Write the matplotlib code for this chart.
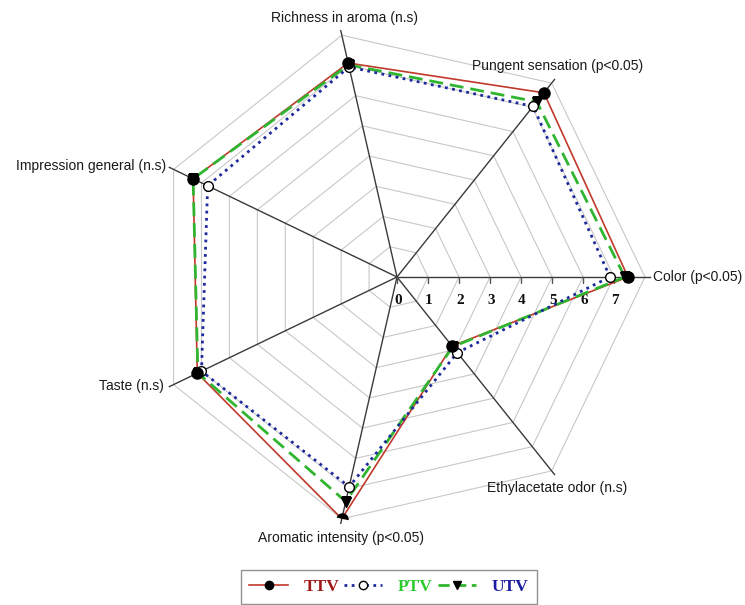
import numpy as np
import matplotlib
matplotlib.use("Agg")
import matplotlib.pyplot as plt
from matplotlib.lines import Line2D

# Sensory attributes, counter-clockwise from the right-hand axis
attributes = ["Color (p<0.05)", "Pungent sensation (p<0.05)", "Richness in aroma (n.s)",
              "Impression general (n.s)", "Taste (n.s)", "Aromatic intensity (p<0.05)",
              "Ethylacetate odor (n.s)"]

ttv = [7.45, 7.6, 7.08, 7.3, 7.15, 8.0, 2.85]
ptv = [6.87, 7.04, 6.95, 6.78, 7.0, 6.94, 3.12]
utv = [7.35, 7.23, 7.02, 7.3, 7.13, 7.43, 2.88]

scale_ticks = [0, 1, 2, 3, 4, 5, 6, 7]
grid_levels = [1, 2, 3, 4, 5, 6, 7, 8]
series_names = ["TTV", "PTV", "UTV"]

n = len(attributes)
theta = np.arange(n) * 2 * np.pi / n
theta_c = np.append(theta, theta[0])

def closed(v):
    return list(v) + [v[0]]

W, H = 745, 605
cx, cy, R = 397, 277, 248
fig = plt.figure(figsize=(W / 100, H / 100), dpi=100)
ax = fig.add_axes([(cx - R) / W, (H - cy - R) / H, 2 * R / W, 2 * R / H], projection="polar")
ax.set_ylim(0, 8)
ax.axis("off")

# heptagonal grid rings
for lv in grid_levels:
    ax.plot(theta_c, [lv] * (n + 1), color="#c8c8c8", lw=0.8, zorder=1)

# spokes
for t in theta:
    ax.plot([t, t], [0, 8.15], color="#3a3a3a", lw=1.0, zorder=2, clip_on=False)

# scale ticks along the right-hand axis
ax.plot([0] * len(scale_ticks), scale_ticks, ls="none", marker=3, ms=4,
        color="#555555", zorder=2)
for s in scale_ticks:
    ax.annotate(str(s), xy=(0, s), xytext=(1, -24), textcoords="offset pixels",
                ha="center", va="center", fontsize=11, fontweight="bold",
                family="Liberation Serif", color="#111111")

# series lines
ax.plot(theta_c, closed(ttv), color="#c0392b", lw=1.2, zorder=4)
ax.plot(theta_c, closed(utv), color="#2fb52f", lw=2.0, ls=(0, (5, 2.5)), zorder=5)
ax.plot(theta_c, closed(ptv), color="#1c2a9c", lw=2.0, ls=(0, (1, 1.6)), zorder=6)

# markers
ax.plot(theta, utv, ls="none", marker="v", ms=7, color="black", zorder=7)
ax.plot(theta, ptv, ls="none", marker="o", ms=7, mfc="white", mec="black", mew=1.0, zorder=8)
ax.plot(theta, ttv, ls="none", marker="o", ms=8, color="black", zorder=9)

# attribute labels around the chart
label_pos = [
    ((3, 0), "left", "center"),
    ((3, 6), "center", "bottom"),
    ((4, 6), "center", "bottom"),
    ((-3, 1), "right", "center"),
    ((-5, 1), "right", "center"),
    ((0, -8), "center", "top"),
    ((3, -6), "center", "top"),
]
for t, lab, (off, ha, va) in zip(theta, attributes, label_pos):
    ax.annotate(lab, xy=(t, 8.15), xytext=off, textcoords="offset pixels",
                ha=ha, va=va, fontsize=10, family="Liberation Sans",
                color="#1a1a1a", annotation_clip=False)

# legend
handles = [
    Line2D([], [], color="#c0392b", lw=1.2, marker="o", ms=6, mfc="black", mec="black"),
    Line2D([], [], color="#1c2a9c", lw=2.0, ls=(0, (1, 1.6)), marker="o", ms=6,
           mfc="white", mec="black", mew=1.0),
    Line2D([], [], color="#2fb52f", lw=2.0, ls=(0, (4, 2)), marker="v", ms=6,
           mfc="black", mec="black"),
]
leg = fig.legend(handles, series_names, loc="center", ncol=3,
                 bbox_to_anchor=(389 / W, 1 - 587 / H),
                 frameon=True, fancybox=False, edgecolor="#777777",
                 handlelength=2.2, handletextpad=0.9, columnspacing=0.3,
                 borderpad=0.5, borderaxespad=0.0,
                 prop={"family": "Liberation Serif", "weight": "bold", "size": 12.5})
leg.get_frame().set_linewidth(1.0)
for txt, col in zip(leg.get_texts(), ["#a01818", "#2ecc2e", "#1c1ca0"]):
    txt.set_color(col)

fig.savefig("out.png", dpi=100)
